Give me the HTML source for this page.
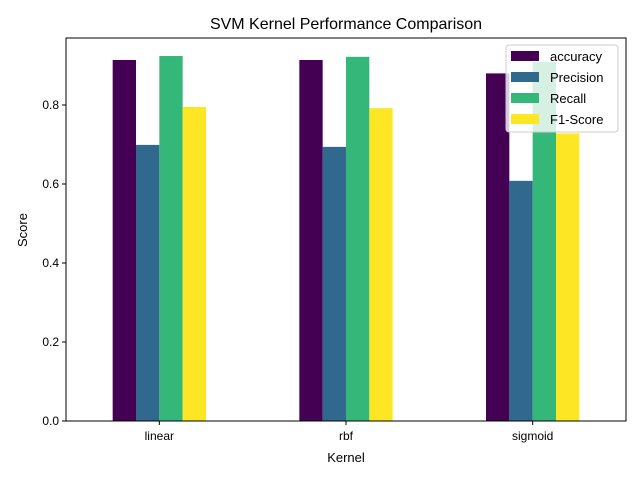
<!DOCTYPE html>
<html><head><meta charset="utf-8"><style>body{margin:0;background:#fff}svg{font-family:"Liberation Sans","DejaVu Sans",sans-serif}</style></head>
<body>
<svg id="c" width="640" height="480" xmlns="http://www.w3.org/2000/svg"></svg>
<script>
const categories=["linear","rbf","sigmoid"];
const seriesNames=["accuracy","Precision","Recall","F1-Score"];
const accuracy=[0.914,0.914,0.880];
const precision=[0.699,0.694,0.608];
const recall=[0.924,0.922,0.909];
const f1=[0.795,0.792,0.728];
const yTicks=[0,0.2,0.4,0.6,0.8];
const colors=["#440154","#31688e","#35b779","#fde725"];
const series=[accuracy,precision,recall,f1];
const L=66,R=626,T=38,B=421;
const ns="http://www.w3.org/2000/svg";
const svg=document.getElementById('c');
function x(v){return L+(v+0.5)/3*(R-L);}
function y(v){return B-v*395;}
function mk(t,a,p){const e=document.createElementNS(ns,t);for(const k in a)e.setAttribute(k,a[k]);(p||svg).appendChild(e);return e;}
const bars=mk('g',{});


series.forEach((s,si)=>{s.forEach((v,ci)=>{
 const x0=x(ci-0.25+si*0.125);
 const r=mk('rect',{x:x0,y:y(v),width:x(0.125)-x(0),height:y(0)-y(v),fill:colors[si]},bars);
 
 
});});
mk('rect',{x:L,y:T,width:R-L,height:B-T,fill:'none',stroke:'#000','stroke-width':1});
yTicks.forEach(t=>{
 mk('line',{x1:L-4,x2:L,y1:y(t),y2:y(t),stroke:'#000'});
 const tx=mk('text',{x:L-7,y:y(t)+4,'text-anchor':'end','font-size':12});
 tx.textContent=t.toFixed(1);
 
 
});
categories.forEach((c,i)=>{
 mk('line',{x1:x(i),x2:x(i),y1:B,y2:B+4,stroke:'#000'});
 const tx=mk('text',{x:x(i),y:B+19,'text-anchor':'middle','font-size':12});
 tx.textContent=c;
 
 
});
let e=mk('text',{x:346,y:29,'text-anchor':'middle','font-size':16});e.textContent='SVM Kernel Performance Comparison';


e=mk('text',{x:346,y:462,'text-anchor':'middle','font-size':13});e.textContent='Kernel';


e=mk('text',{x:27,y:230,'text-anchor':'middle','font-size':13,transform:'rotate(-90 27 230)'});e.textContent='Score';


const lg=mk('g',{});


mk('rect',{x:506,y:45,width:112,height:87,rx:3,fill:'#fff','fill-opacity':0.8,stroke:'#ccc'},lg);
seriesNames.forEach((n,i)=>{
 const yy=51+i*21;
 mk('rect',{x:511,y:yy,width:28,height:10,fill:colors[i]},lg);
 const t=mk('text',{x:550,y:yy+10,'font-size':13},lg);t.textContent=n;
 
 
});
</script>
</body></html>
